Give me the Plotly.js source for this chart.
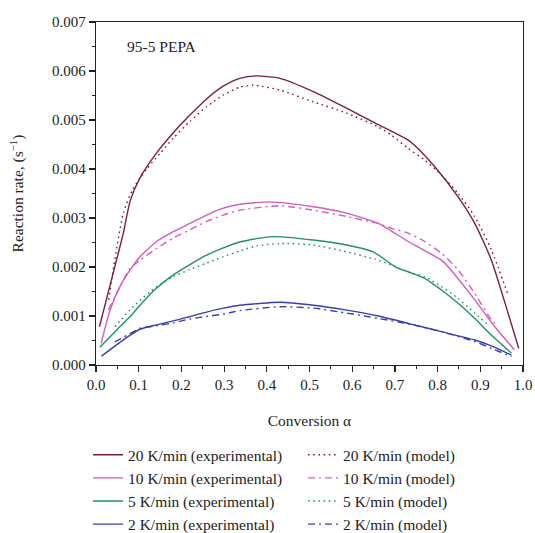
<!DOCTYPE html>
<html>
<head>
<meta charset="utf-8">
<script src="https://cdn.plot.ly/plotly-3.0.1.min.js"></script>
<style>html,body{margin:0;padding:0;background:#fff;}#chart{width:535px;height:533px;}</style>
</head>
<body>
<div id="chart"></div>
<script>
// 20 K/min
const x20exp = [0.008,0.048,0.064,0.080,0.103,0.142,0.181,0.220,0.259,0.298,0.337,0.376,0.431,0.509,0.587,0.653,0.731,0.754,0.793,0.848,0.887,0.926,0.965,0.990];
const y20exp = [0.00078,0.00214,0.00269,0.00335,0.00382,0.00433,0.00474,0.00510,0.00543,0.00569,0.00585,0.00590,0.00585,0.00558,0.00524,0.00494,0.00459,0.00442,0.00405,0.00343,0.00289,0.00214,0.00106,0.00034];
const x20mod = [0.030,0.039,0.064,0.087,0.119,0.150,0.181,0.220,0.259,0.298,0.337,0.368,0.431,0.509,0.587,0.661,0.692,0.731,0.770,0.809,0.848,0.887,0.926,0.965];
const y20mod = [0.00133,0.00187,0.00310,0.00360,0.00400,0.00432,0.00463,0.00497,0.00527,0.00551,0.00567,0.00571,0.00561,0.00537,0.00514,0.00486,0.00469,0.00442,0.00418,0.00388,0.00350,0.00303,0.00235,0.00143];
// 10 K/min
const x10exp = [0.012,0.033,0.056,0.080,0.103,0.142,0.181,0.220,0.259,0.298,0.337,0.407,0.509,0.587,0.661,0.731,0.809,0.821,0.887,0.934,0.980];
const y10exp = [0.00044,0.00112,0.00160,0.00194,0.00221,0.00252,0.00272,0.00289,0.00306,0.00320,0.00328,0.00333,0.00323,0.00310,0.00289,0.00252,0.00214,0.00204,0.00133,0.00078,0.00031];
const x10mod = [0.029,0.080,0.103,0.142,0.181,0.220,0.259,0.298,0.337,0.431,0.509,0.587,0.661,0.692,0.731,0.770,0.809,0.848,0.887,0.926,0.940];
const y10mod = [0.00112,0.00197,0.00214,0.00238,0.00259,0.00276,0.00293,0.00306,0.00316,0.00325,0.00316,0.00303,0.00289,0.00279,0.00269,0.00252,0.00228,0.00194,0.00146,0.00092,0.00080];
// 5 K/min
const x5exp = [0.009,0.048,0.080,0.103,0.142,0.181,0.220,0.259,0.298,0.337,0.376,0.415,0.509,0.587,0.649,0.700,0.731,0.770,0.809,0.848,0.887,0.926,0.973];
const y5exp = [0.00036,0.00071,0.00099,0.00122,0.00157,0.00184,0.00205,0.00224,0.00239,0.00251,0.00258,0.00262,0.00255,0.00245,0.00231,0.00201,0.00190,0.00177,0.00153,0.00126,0.00095,0.00061,0.00024];
const x5mod = [0.044,0.087,0.142,0.181,0.220,0.259,0.298,0.337,0.376,0.431,0.509,0.587,0.653,0.692,0.731,0.770,0.809,0.848,0.887,0.920];
const y5mod = [0.00078,0.00119,0.00160,0.00180,0.00195,0.00208,0.00221,0.00233,0.00243,0.00248,0.00245,0.00231,0.00216,0.00204,0.00190,0.00180,0.00160,0.00136,0.00106,0.00080];
// 2 K/min
const x2exp = [0.013,0.048,0.080,0.103,0.142,0.181,0.220,0.259,0.298,0.337,0.431,0.509,0.587,0.661,0.731,0.809,0.887,0.926,0.973];
const y2exp = [0.00018,0.00041,0.00061,0.00073,0.00082,0.00090,0.00099,0.00108,0.00116,0.00122,0.00128,0.00122,0.00112,0.00100,0.00085,0.00068,0.00051,0.00039,0.00020];
const x2mod = [0.044,0.080,0.103,0.142,0.181,0.220,0.259,0.298,0.337,0.431,0.509,0.587,0.661,0.731,0.809,0.887,0.926,0.973];
const y2mod = [0.00047,0.00064,0.00075,0.00080,0.00086,0.00094,0.00099,0.00104,0.00111,0.00119,0.00116,0.00106,0.00095,0.00084,0.00068,0.00048,0.00034,0.00017];

const names = ['20 K/min (experimental)','20 K/min (model)','10 K/min (experimental)','10 K/min (model)','5 K/min (experimental)','5 K/min (model)','2 K/min (experimental)','2 K/min (model)'];
const xTickVals = [0,0.1,0.2,0.3,0.4,0.5,0.6,0.7,0.8,0.9,1.0];
const yTickVals = [0,0.001,0.002,0.003,0.004,0.005,0.006,0.007];

const c20 = '#7a1e44', c10 = '#d35cc0', c5 = '#1f9163', c2 = '#3a3eaa';
const dotDash = '1.6px,3.6px';
const dashDot = '7px,4px,2px,4px';
function tr(x, y, name, color, dash) {
  return {x: x, y: y, name: name, type: 'scatter', mode: 'lines',
    line: {color: color, width: 1.4, dash: dash, shape: 'spline', smoothing: 0.6}};
}
const data = [
  tr(x20exp, y20exp, names[0], c20, 'solid'),
  tr(x20mod, y20mod, names[1], c20, dotDash),
  tr(x10exp, y10exp, names[2], c10, 'solid'),
  tr(x10mod, y10mod, names[3], c10, dashDot),
  tr(x5exp, y5exp, names[4], c5, 'solid'),
  tr(x5mod, y5mod, names[5], c5, dotDash),
  tr(x2exp, y2exp, names[6], c2, 'solid'),
  tr(x2mod, y2mod, names[7], c2, dashDot)
];
const fontFam = '"Liberation Serif", "DejaVu Serif", serif';
const layout = {
  width: 535, height: 533,
  margin: {l: 96, r: 12, t: 22, b: 168},
  paper_bgcolor: '#fff', plot_bgcolor: '#fff',
  font: {family: fontFam, size: 15, color: '#222'},
  showlegend: true,
  legend: {orientation: 'h', xref: 'container', yref: 'container', x: 0.1645, xanchor: 'left', y: 0.178, yanchor: 'top',
    entrywidth: 170, font: {family: fontFam, size: 15.5, color: '#222'}, traceorder: 'normal'},
  xaxis: {range: [0, 1.0], tickvals: xTickVals, tickformat: '.1f', showgrid: false, zeroline: false,
    showline: true, linecolor: '#222', linewidth: 1.3, mirror: true, ticks: 'outside', ticklen: 6, tickwidth: 1.2, tickcolor: '#222',
    minor: {dtick: 0.05, ticks: 'outside', ticklen: 3, tickwidth: 1, tickcolor: '#222'},
    title: {text: 'Conversion α', font: {family: fontFam, size: 15.5, color: '#222'}, standoff: 23},
    tickfont: {family: fontFam, size: 15, color: '#222'}},
  yaxis: {range: [0, 0.007], tickvals: yTickVals, tickformat: '.3f', showgrid: false, zeroline: false,
    showline: true, linecolor: '#222', linewidth: 1.3, mirror: true, ticks: 'outside', ticklen: 6, tickwidth: 1.2, tickcolor: '#222',
    minor: {dtick: 0.0005, ticks: 'outside', ticklen: 3, tickwidth: 1, tickcolor: '#222'},
    title: {text: 'Reaction rate, (s<sup>−1</sup>)', font: {family: fontFam, size: 15.5, color: '#222'}, standoff: 24},
    tickfont: {family: fontFam, size: 15, color: '#222'}},
  annotations: [{text: '95-5 PEPA', xref: 'paper', yref: 'paper', x: 0.067, y: 0.928, xanchor: 'left', yanchor: 'middle',
    showarrow: false, font: {family: fontFam, size: 15.5, color: '#222'}}]
};
Plotly.newPlot('chart', data, layout, {displayModeBar: false, staticPlot: true});
</script>
</body>
</html>
